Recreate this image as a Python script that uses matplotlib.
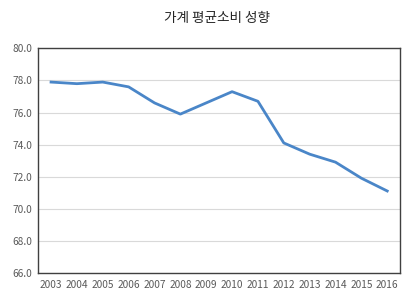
import matplotlib
matplotlib.use("Agg")
import matplotlib.pyplot as plt

# 가계 평균소비 성향 (연도별)
years = ["2003", "2004", "2005", "2006", "2007", "2008", "2009",
         "2010", "2011", "2012", "2013", "2014", "2015", "2016"]
values = [77.9, 77.8, 77.9, 77.6, 76.6, 75.9, 76.6,
          77.3, 76.7, 74.1, 73.4, 72.9, 71.9, 71.1]
y_ticks = [66.0, 68.0, 70.0, 72.0, 74.0, 76.0, 78.0, 80.0]

plt.rcParams['font.family'] = ['Noto Sans CJK KR', 'DejaVu Sans']

fig = plt.figure(figsize=(4.10, 2.99), dpi=100)
ax = fig.add_axes([0.093, 0.088, 0.883, 0.75])

x = range(len(years))
ax.plot(x, values, color='#4a86c8', linewidth=2.0, solid_joinstyle='round')

ax.set_xlim(-0.5, len(years) - 0.5)
ax.set_ylim(66, 80)
ax.set_yticks(y_ticks)
ax.set_yticklabels([f"{v:.1f}" for v in y_ticks])
ax.set_xticks(list(x))
ax.set_xticklabels(years)

ax.grid(axis='y', color='#d9d9d9', linewidth=0.8)
ax.set_axisbelow(True)
for s in ax.spines.values():
    s.set_color('#404040')
    s.set_linewidth(1.0)
ax.tick_params(length=0, labelsize=7.3, colors='#595959', pad=5)
ax.tick_params(axis='y', pad=4)

fig.text(0.53, 0.94, "가계 평균소비 성향", ha='center', va='center',
         fontsize=9.8, color='#262626')

fig.savefig("out.png", dpi=100)
